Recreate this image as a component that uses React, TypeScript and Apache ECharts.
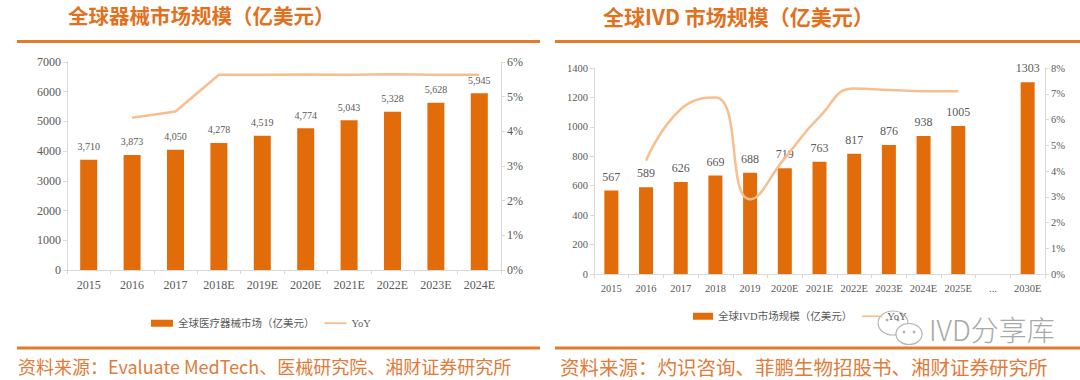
import React, { useEffect, useRef } from "react";
import * as echarts from "echarts";

const leftCats = ["2015", "2016", "2017", "2018E", "2019E", "2020E", "2021E", "2022E", "2023E", "2024E"];
const leftMarket = [3710, 3873, 4050, 4278, 4519, 4774, 5043, 5328, 5628, 5945];
const leftYoY = [null, 4.39, 4.57, 5.63, 5.63, 5.64, 5.63, 5.65, 5.63, 5.63];
const leftLeftTicks = { min: 0, max: 7000, interval: 1000 };
const leftRightTicks = { min: 0, max: 6, interval: 1 };

const rightCats = ["2015", "2016", "2017", "2018", "2019", "2020E", "2021E", "2022E", "2023E", "2024E", "2025E", "...", "2030E"];
const rightMarket = [567, 589, 626, 669, 688, 719, 763, 817, 876, 938, 1005, null, 1303];
const rightYoY = [null, 4.4, 6.4, 6.85, 2.9, 4.5, 6.1, 7.2, 7.15, 7.1, 7.1, null, null];
const rightLeftTicks = { min: 0, max: 1400, interval: 200 };
const rightRightTicks = { min: 0, max: 8, interval: 1 };

const leftTitle = "全球器械市场规模（亿美元）";
const rightTitle = "全球IVD 市场规模（亿美元）";
const leftSource = "资料来源：Evaluate MedTech、医械研究院、湘财证券研究所";
const rightSource = "资料来源：灼识咨询、菲鹏生物招股书、湘财证券研究所";
const leftBarName = "全球医疗器械市场（亿美元）";
const rightBarName = "全球IVD市场规模（亿美元）";

const BAR = "#E36C0A";
const LINE = "#F9BE8E";
const ORANGE = "#E47A2E";
const AXIS = "#D9D9D9";
const LABEL = "#595959";
const SERIF = "'Liberation Serif', 'Times New Roman', serif";
const CJK = "'Noto Sans CJK SC', sans-serif";
const LEGEND_FONT = "'Liberation Serif', 'Noto Sans CJK SC', serif";
const LINE_ICON = "path://M0,0H30V2.5H0Z";

export default function App() {
  const ref = useRef<HTMLDivElement>(null);
  useEffect(() => {
    if (!ref.current) return;
    const chart = echarts.init(ref.current, null, { renderer: "svg" });

    const catAxis = (gridIndex: number, data: string[], fs: number) => ({
      type: "category",
      gridIndex,
      data,
      axisLine: { lineStyle: { color: AXIS } },
      axisTick: { show: true, length: 4, lineStyle: { color: AXIS } },
      axisLabel: { color: LABEL, fontFamily: SERIF, fontSize: fs, margin: 9, interval: 0 },
    });
    const valAxis = (gridIndex: number, t: any, pos: string, fs: number, pct: boolean) => ({
      type: "value",
      gridIndex,
      position: pos,
      min: t.min,
      max: t.max,
      interval: t.interval,
      splitLine: { show: false },
      axisLine: { show: true, lineStyle: { color: AXIS } },
      axisTick: { show: true, length: 4, lineStyle: { color: AXIS } },
      axisLabel: {
        color: LABEL,
        fontFamily: SERIF,
        fontSize: fs,
        margin: 6,
        formatter: (v: number) => (pct ? `${v}%` : String(v)),
      },
    });

    const option: any = {
      animation: false,
      backgroundColor: "#ffffff",
      grid: [
        { left: 67, right: 579, top: 62, bottom: 110 },
        { left: 594, right: 35, top: 68, bottom: 106 },
      ],
      xAxis: [catAxis(0, leftCats, 12), catAxis(1, rightCats, 10.5)],
      yAxis: [
        valAxis(0, leftLeftTicks, "left", 12, false),
        valAxis(0, leftRightTicks, "right", 12, true),
        valAxis(1, rightLeftTicks, "left", 10.5, false),
        valAxis(1, rightRightTicks, "right", 10.5, true),
      ],
      legend: [
        {
          left: 146,
          top: 313,
          itemWidth: 22,
          itemHeight: 7,
          itemGap: 10,
          data: [
            { name: leftBarName, icon: "rect" },
            { name: "YoY", icon: LINE_ICON, itemStyle: { color: LINE } },
          ],
          textStyle: { color: LABEL, fontFamily: LEGEND_FONT, fontSize: 10.5 },
        },
        {
          left: 688,
          top: 306,
          itemWidth: 20,
          itemHeight: 7,
          itemGap: 10,
          data: [
            { name: rightBarName, icon: "rect" },
            { name: "YoY", icon: LINE_ICON, itemStyle: { color: LINE } },
          ],
          textStyle: { color: LABEL, fontFamily: LEGEND_FONT, fontSize: 10.5 },
        },
      ],
      series: [
        {
          name: leftBarName,
          type: "bar",
          xAxisIndex: 0,
          yAxisIndex: 0,
          data: leftMarket,
          barWidth: 17,
          itemStyle: { color: BAR },
          label: {
            show: true,
            position: "top",
            distance: 8,
            color: LABEL,
            fontFamily: SERIF,
            fontSize: 10,
            formatter: (p: any) => Number(p.value).toLocaleString("en-US"),
          },
        },
        {
          name: "YoY",
          type: "line",
          xAxisIndex: 0,
          yAxisIndex: 1,
          data: leftYoY,
          symbol: "none",
          lineStyle: { color: LINE, width: 2.5 },
          itemStyle: { color: LINE },
        },
        {
          name: rightBarName,
          type: "bar",
          xAxisIndex: 1,
          yAxisIndex: 2,
          data: rightMarket,
          barWidth: 14,
          itemStyle: { color: BAR },
          label: {
            show: true,
            position: "top",
            distance: 8,
            color: LABEL,
            fontFamily: SERIF,
            fontSize: 12,
          },
        },
        {
          name: "YoY",
          type: "line",
          xAxisIndex: 1,
          yAxisIndex: 3,
          data: rightYoY,
          symbol: "none",
          smooth: 0.5,
          lineStyle: { color: LINE, width: 2.5 },
          itemStyle: { color: LINE },
        },
      ],
      graphic: [
        { type: "text", left: 68, top: 5, style: { text: leftTitle, fill: "#E2711D", font: `bold 20.5px ${CJK}` } },
        { type: "text", left: 603, top: 5, style: { text: rightTitle, fill: "#E2711D", font: `bold 21px ${CJK}` } },
        { type: "rect", shape: { x: 17, y: 40, width: 523, height: 3 }, style: { fill: ORANGE } },
        { type: "rect", shape: { x: 555, y: 40, width: 525, height: 3 }, style: { fill: ORANGE } },
        { type: "rect", shape: { x: 17, y: 346.5, width: 523, height: 3 }, style: { fill: ORANGE } },
        { type: "rect", shape: { x: 555, y: 346.5, width: 525, height: 3 }, style: { fill: ORANGE } },
        { type: "text", left: 18, top: 357, style: { text: leftSource, fill: "#E07B39", font: `18px ${CJK}` } },
        { type: "text", left: 560, top: 357, style: { text: rightSource, fill: "#E07B39", font: `19.5px ${CJK}` } },
        // watermark
        { type: "ellipse", shape: { cx: 893, cy: 323, rx: 15, ry: 12 }, style: { fill: "#ffffff", stroke: "#b5b5b5", lineWidth: 1.2 } },
        { type: "circle", shape: { cx: 887, cy: 320, r: 1.5 }, style: { fill: "#b5b5b5" } },
        { type: "circle", shape: { cx: 898, cy: 320, r: 1.5 }, style: { fill: "#b5b5b5" } },
        { type: "ellipse", shape: { cx: 909, cy: 334, rx: 13, ry: 10.5 }, style: { fill: "#ffffff", stroke: "#b5b5b5", lineWidth: 1.2 } },
        { type: "circle", shape: { cx: 904, cy: 332, r: 1.4 }, style: { fill: "#b5b5b5" } },
        { type: "circle", shape: { cx: 914, cy: 332, r: 1.4 }, style: { fill: "#b5b5b5" } },
        { type: "text", left: 929, top: 315, style: { text: "IVD分享库", fill: "#a8a8a8", font: `300 28px ${CJK}` } },
      ],
    };
    chart.setOption(option);
    return () => chart.dispose();
  }, []);
  return <div ref={ref} style={{ position: "fixed", left: 0, top: 0, width: 1080, height: 380 }} />;
}
